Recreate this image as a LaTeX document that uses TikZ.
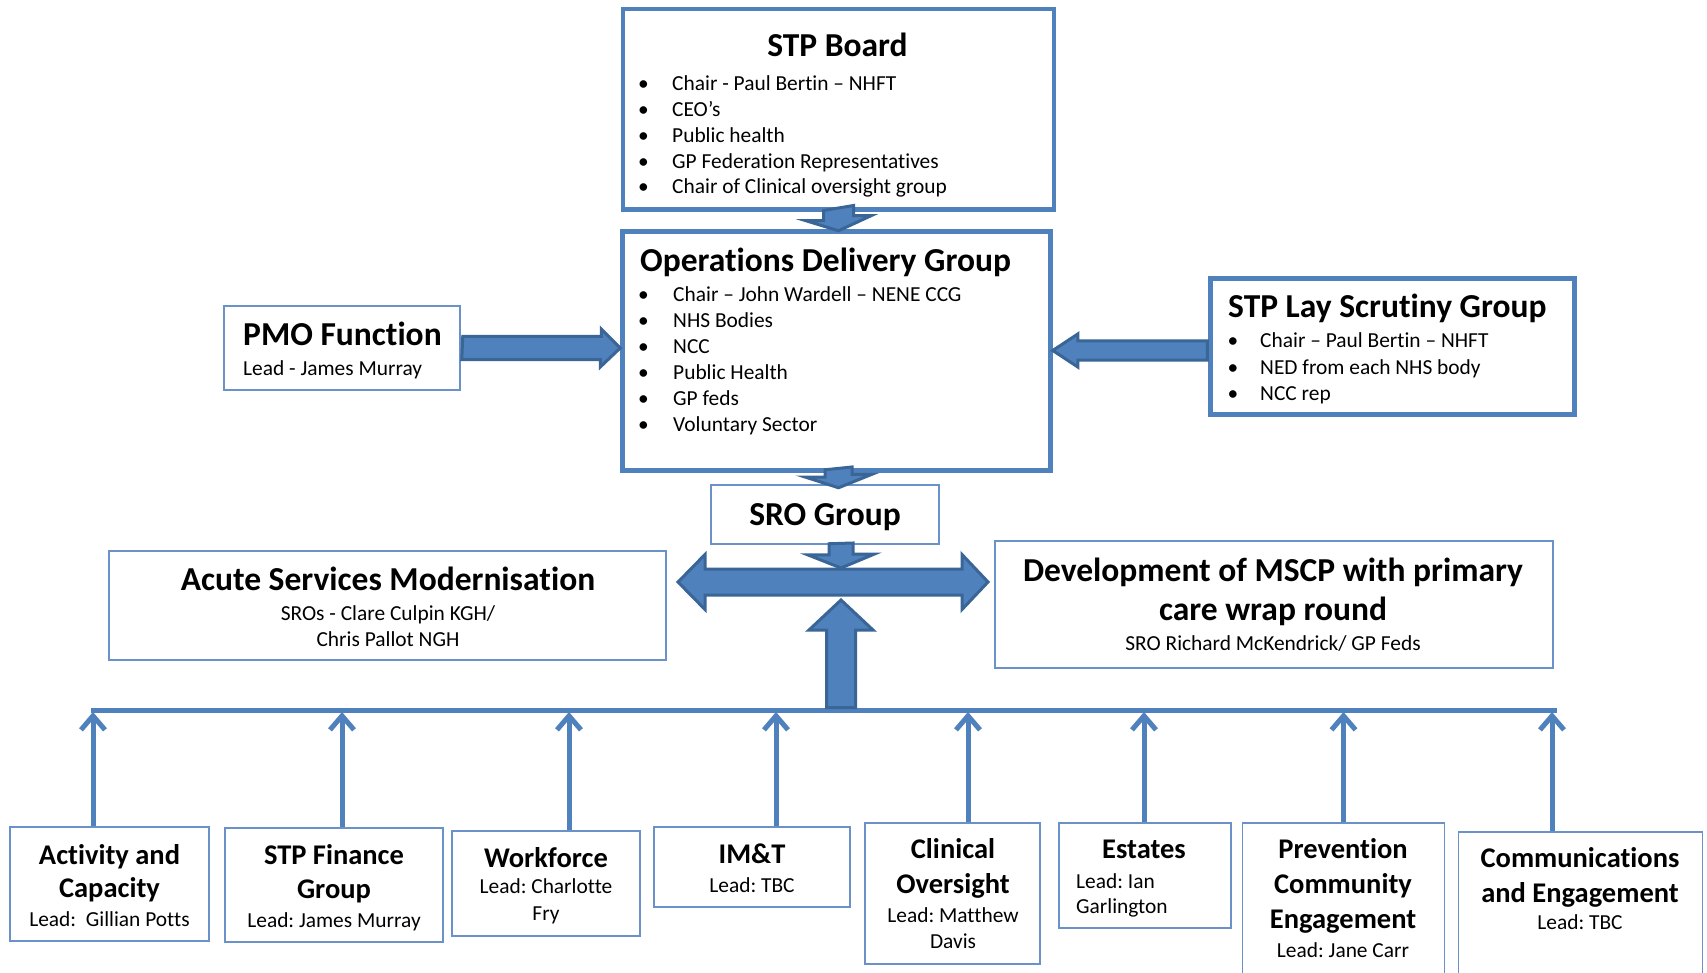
\documentclass[tikz,border=0pt]{standalone}
\usepackage{fontspec}
\setmainfont{Carlito}[Ligatures={NoCommon}, RawFeature={-clig;-dlig}]
\usetikzlibrary{arrows.meta,calc}
\definecolor{obl}{HTML}{4F81BD}
\definecolor{odk}{HTML}{3A6597}
\definecolor{thinb}{HTML}{6A92C9}
\tikzset{
  thickbox/.style={draw=obl, line width=4.5pt, fill=white, inner sep=0pt},
  thinbox/.style={draw=thinb, line width=1.5pt, fill=white, inner sep=0pt},
  barrow/.style={draw=odk, fill=obl, line width=3pt, line join=miter},
  ttl/.style={font=\fontsize{33.5}{40}\selectfont\bfseries, inner sep=0pt},
  btl/.style={font=\fontsize{28.5}{34}\selectfont\bfseries, inner sep=0pt},
  txt/.style={font=\fontsize{21.4}{26}\selectfont, inner sep=0pt},
  vline/.style={draw=obl, line width=5pt, -{Straight Barb[length=14pt,width=24pt]}},
  busline/.style={draw=obl, line width=5pt},
}
\frenchspacing
\begin{document}
\begin{tikzpicture}[x=1pt,y=-1pt]
\useasboundingbox[fill=white] (0,0) rectangle (1707,973);

% ---------- boxes ----------
\node[thickbox, minimum width=431pt, minimum height=200.5pt] (stp) at (838.5,109.5) {};
\node[thickbox, minimum width=428pt, minimum height=239pt] (ops) at (836.5,351) {};
\node[thinbox, minimum width=228pt, minimum height=59pt] (sro) at (825,514.5) {};
\node[thinbox, minimum width=236pt, minimum height=84pt] (pmo) at (342,348) {};
\node[thickbox, minimum width=364pt, minimum height=136pt] (lay) at (1392.5,346.5) {};
\node[thinbox, minimum width=557pt, minimum height=109pt] (acute) at (387.5,605.5) {};
\node[thinbox, minimum width=558pt, minimum height=127pt] (mscp) at (1274,604.5) {};

\node[thinbox, minimum width=199pt, minimum height=114pt] (act) at (109.5,884) {};
\node[thinbox, minimum width=218pt, minimum height=114pt] (fin) at (334,885) {};
\node[thinbox, minimum width=188pt, minimum height=105pt] (work) at (546,883.5) {};
\node[thinbox, minimum width=196pt, minimum height=80pt] (imt) at (752,867) {};
\node[thinbox, minimum width=175pt, minimum height=141pt] (clin) at (952.5,893.5) {};
\node[thinbox, minimum width=172pt, minimum height=105pt] (est) at (1145,875.5) {};
\node[thinbox, minimum width=202pt, minimum height=177pt] (prev) at (1343.5,911.5) {};
\node[thinbox, minimum width=244pt, minimum height=168pt] (comm) at (1580.5,916) {};

% ---------- texts ----------
\node[ttl, anchor=base] (stpT) at (837.5,57) {STP Board};
\foreach \t [count=\i] in {Chair - Paul Bertin – NHFT, CEO’s, Public health, GP Federation Representatives, Chair of Clinical oversight group}{
  \node[txt, anchor=base] (stpB\i) at (643.5,64.9+25.8*\i) {•};
  \node[txt, anchor=base west] (stpL\i) at (672,64.9+25.8*\i) {\t};
}

\node[ttl, anchor=base west] (opsT) at (640,272) {Operations Delivery Group};
\foreach \t [count=\i] in {Chair – John Wardell – NENE CCG, NHS Bodies, NCC, Public Health, GP feds, Voluntary Sector}{
  \node[txt, anchor=base] (opsB\i) at (643.5,275.7+26*\i) {•};
  \node[txt, anchor=base west] (opsL\i) at (673,275.7+26*\i) {\t};
}

\node[ttl, anchor=base west] (layT) at (1228,318) {STP Lay Scrutiny Group};
\foreach \t [count=\i] in {Chair – Paul Bertin – NHFT, NED from each NHS body, NCC rep}{
  \node[txt, anchor=base] (layB\i) at (1233,322+26*\i) {•};
  \node[txt, anchor=base west] (layL\i) at (1260,322+26*\i) {\t};
}

\node[ttl, anchor=base west] (pmoT) at (243,345) {PMO Function};
\node[txt, anchor=base west] (pmoL) at (243,375) {Lead - James Murray};

\node[ttl, anchor=base] (sroT) at (825,525) {SRO Group};

\node[ttl, anchor=base] (acuteT) at (388,590) {Acute Services Modernisation};
\node[txt, anchor=base] (acuteL1) at (388,620) {SROs - Clare Culpin KGH/};
\node[txt, anchor=base] (acuteL2) at (388,646) {Chris Pallot NGH};

\node[ttl, anchor=base] (mscpT1) at (1273,581) {Development of MSCP with primary};
\node[ttl, anchor=base] (mscpT2) at (1273,620) {care wrap round};
\node[txt, anchor=base] (mscpL) at (1273,650) {SRO Richard McKendrick/ GP Feds};

\node[btl, anchor=base] (actT1) at (109.5,864) {Activity and};
\node[btl, anchor=base] (actT2) at (109.5,897) {Capacity};
\node[txt, anchor=base] (actL) at (109.5,926) {Lead:\ \ Gillian Potts};

\node[btl, anchor=base] (finT1) at (334,864) {STP Finance};
\node[btl, anchor=base] (finT2) at (334,898) {Group};
\node[txt, anchor=base] (finL) at (334,927) {Lead: James Murray};

\node[btl, anchor=base] (workT) at (546,867) {Workforce};
\node[txt, anchor=base] (workL1) at (546,893) {Lead: Charlotte};
\node[txt, anchor=base] (workL2) at (546,920) {Fry};

\node[btl, anchor=base] (imtT) at (752,863) {IM\&T};
\node[txt, anchor=base] (imtL) at (752,892) {Lead: TBC};

\node[btl, anchor=base] (clinT1) at (953,858) {Clinical};
\node[btl, anchor=base] (clinT2) at (953,893) {Oversight};
\node[txt, anchor=base] (clinL1) at (953,922) {Lead: Matthew};
\node[txt, anchor=base] (clinL2) at (953,948) {Davis};

\node[btl, anchor=base] (estT) at (1144,858) {Estates};
\node[txt, anchor=base west] (estL1) at (1076,888) {Lead: Ian};
\node[txt, anchor=base west] (estL2) at (1076,913) {Garlington};

\node[btl, anchor=base] (prevT1) at (1343,858) {Prevention};
\node[btl, anchor=base] (prevT2) at (1343,893) {Community};
\node[btl, anchor=base] (prevT3) at (1343,928) {Engagement};
\node[txt, anchor=base] (prevL) at (1343,957) {Lead: Jane Carr};

\node[btl, anchor=base] (commT1) at (1580,867) {Communications};
\node[btl, anchor=base] (commT2) at (1580,902) {and Engagement};
\node[txt, anchor=base] (commL) at (1580,929) {Lead: TBC};

% ---------- bus and coordinates ----------
\coordinate (ax) at (838.5,0);
\coordinate (hub) at (841,582);
\coordinate (busL) at (91,710);
\coordinate (busR) at (1557,710);
\draw[busline] (busL) -- (busR);

% thin up arrows from the work-stream boxes
\draw[vline] ($(act.north)+(-16.5,0)$) -- ($(act.north |- busL)+(-16.5,2)$);
\draw[vline] ($(fin.north)+(8,0)$) -- ($(fin.north |- busL)+(8,2)$);
\draw[vline] ($(work.north)+(23,0)$) -- ($(work.north |- busL)+(23,2)$);
\draw[vline] ($(imt.north)+(24,0)$) -- ($(imt.north |- busL)+(24,2)$);
\draw[vline] ($(clin.north)+(15.5,0)$) -- ($(clin.north |- busL)+(15.5,2)$);
\draw[vline] ($(est.north)+(-1,0)$) -- ($(est.north |- busL)+(-1,2)$);
\draw[vline] ($(prev.north)+(0,0)$) -- ($(prev.north |- busL)+(0,2)$);
\draw[vline] ($(comm.north)+(-28.5,0)$) -- ($(comm.north |- busL)+(-28.5,2)$);

% ---------- block arrows ----------
% STP Board -> Operations Delivery Group
\draw[barrow] ($(stp.south)+(-15,-1.5)$) -- ++(0,10.25) -- ++(-17.5,0)
  -- ($(stp.south |- ops.north)+(0,1.5)$) -- ++(32.5,-15) -- ++(-17.5,0) -- ++(0,-10.25) -- cycle;
% Operations Delivery Group -> SRO Group
\draw[barrow] ($(ax |- ops.south)+(-13.5,-3)$) -- ++(0,7.25) -- ++(-20,0)
  -- ($(ax |- sro.north)+(0,3.5)$) -- ++(33.5,-13.5) -- ++(-20,0) -- ++(0,-7.25) -- cycle;
% PMO -> Operations
\draw[barrow] ($(pmo.east)+(2,-11.5)$) -- ++(138.5,0) -- ++(0,-7.5)
  -- (ops.west |- pmo.east) -- ++(-20,19) -- ++(0,-7.5) -- ++(-138.5,0) -- cycle;
% Lay Scrutiny -> Operations
\draw[barrow] ($(ops.east |- lay.west)+(0,4)$) -- ++(25,-16.5) -- ++(0,7)
  -- ($(lay.west)+(-1,-5.5)$) -- ++(0,19) -- ($(ops.east |- lay.west)+(25,13.5)$) -- ++(0,7) -- cycle;
% double arrow
\draw[barrow] ($(hub)+(-163,0)$) -- ++(27,-27.5) -- ++(0,14.5) -- ++(257,0) -- ++(0,-14.5)
  -- ++(26,27.5) -- ++(-26,27.5) -- ++(0,-14.5) -- ++(-257,0) -- ++(0,14.5) -- cycle;
% SRO Group -> double arrow
\draw[barrow] ($(hub |- sro.south)+(-12,-1)$) -- ++(0,11) -- ++(-21.5,0)
  -- ($(hub)+(0,-14)$) -- ++(33.5,-14) -- ++(-21.5,0) -- ++(0,-11) -- cycle;
% bus -> double arrow
\draw[barrow] ($(hub |- busL)+(-14.5,-2.5)$) -- ++(0,-77.5) -- ++(-17.5,0)
  -- ($(hub)+(0,18)$) -- ++(32,30) -- ++(-17.5,0) -- ++(0,77.5) -- cycle;
\end{tikzpicture}
\end{document}
